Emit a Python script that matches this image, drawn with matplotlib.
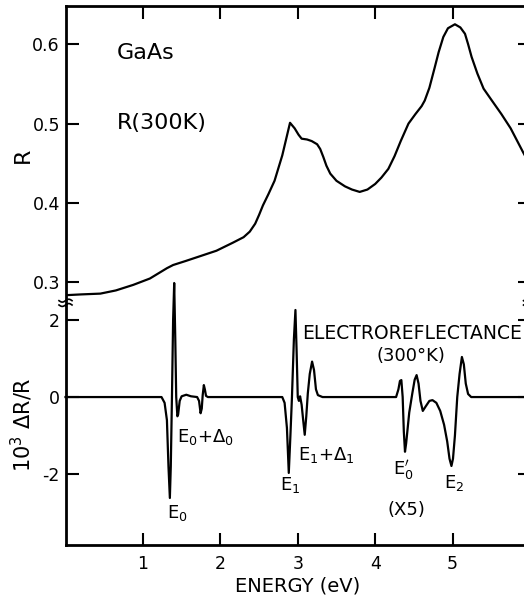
import numpy as np
import matplotlib.pyplot as plt

# reflectance R(E) of GaAs at 300K
r_energy = [0.0, 0.2, 0.45, 0.65, 0.875, 1.09, 1.31, 1.39, 1.55, 1.735, 1.95, 2.16,
            2.30, 2.38, 2.45, 2.50, 2.55, 2.62, 2.70, 2.80, 2.90, 2.96, 3.01, 3.05, 3.12,
            3.18, 3.25, 3.29, 3.33, 3.37, 3.42, 3.50, 3.61, 3.70, 3.80, 3.90, 4.00, 4.08,
            4.17, 4.25, 4.33, 4.43, 4.52, 4.60, 4.64, 4.70, 4.77, 4.82, 4.88, 4.94,
            5.03, 5.10, 5.16, 5.20, 5.245, 5.32, 5.40, 5.50, 5.63, 5.75, 5.91, 6.0]
r_value = [0.284, 0.285, 0.286, 0.290, 0.297, 0.305, 0.318, 0.322, 0.327, 0.333, 0.340, 0.350,
           0.357, 0.364, 0.374, 0.385, 0.397, 0.411, 0.428, 0.460, 0.501, 0.494, 0.486, 0.481, 0.480,
           0.478, 0.474, 0.468, 0.458, 0.447, 0.437, 0.428, 0.421, 0.417, 0.414, 0.417, 0.424, 0.432,
           0.443, 0.459, 0.478, 0.500, 0.512, 0.522, 0.529, 0.545, 0.571, 0.590, 0.609, 0.620,
           0.625, 0.621, 0.613, 0.600, 0.584, 0.563, 0.544, 0.530, 0.512, 0.494, 0.464, 0.448]

# electroreflectance 10^3 dR/R (E0' / E2 part already x5 in the original)
er_energy = [0.0, 1.24, 1.28, 1.31, 1.33, 1.348, 1.36, 1.375, 1.39, 1.404, 1.418, 1.43,
             1.445, 1.455, 1.475, 1.50, 1.56, 1.62, 1.70, 1.725, 1.745, 1.76, 1.772,
             1.787, 1.80, 1.815, 1.84,
             2.80, 2.83, 2.86, 2.884, 2.905, 2.925, 2.95, 2.97, 2.985, 3.0, 3.015, 3.03,
             3.05, 3.07, 3.09, 3.11, 3.13, 3.155, 3.185, 3.21, 3.235, 3.26, 3.32,
             4.27, 4.30, 4.32, 4.338, 4.355, 4.37, 4.385, 4.40, 4.44, 4.48, 4.51, 4.535,
             4.56, 4.585, 4.615, 4.65, 4.70, 4.74, 4.79, 4.84, 4.89, 4.93, 4.96, 4.985,
             5.005, 5.03, 5.06, 5.09, 5.12, 5.145, 5.17, 5.20, 5.24, 6.0]
er_value = [0.0, 0.0, -0.15, -0.6, -1.8, -2.62, -1.8, 0.0, 2.0, 2.96, 1.5, 0.0,
            -0.5, -0.45, -0.1, 0.02, 0.06, 0.02, 0.0, -0.1, -0.42, -0.3, 0.05,
            0.31, 0.2, 0.03, 0.0,
            0.0, -0.15, -0.8, -1.97, -1.0, 0.0, 1.5, 2.26, 1.2, 0.0, -0.1, 0.02,
            -0.2, -0.6, -0.98, -0.5, 0.1, 0.6, 0.92, 0.7, 0.2, 0.05, 0.0,
            0.0, 0.2, 0.42, 0.44, 0.0, -0.9, -1.42, -1.2, -0.4, 0.1, 0.45, 0.57,
            0.35, -0.1, -0.36, -0.25, -0.1, -0.08, -0.15, -0.36, -0.72, -1.15, -1.6, -1.79,
            -1.6, -1.0, 0.0, 0.6, 1.04, 0.85, 0.35, 0.08, 0.0, 0.0]

x_ticks = [1, 2, 3, 4, 5]
r_ticks = [0.3, 0.4, 0.5, 0.6]
er_ticks = [-2, 0, 2]

plt.rcParams['font.family'] = 'DejaVu Sans'
plt.rcParams['mathtext.fontset'] = 'dejavusans'

fig = plt.figure(figsize=(5.24, 6.0), dpi=100)
left, width = 0.125, 0.8865
ax_r = fig.add_axes([left, 0.4917, width, 0.4983])
ax_er = fig.add_axes([left, 0.0917, width, 0.4])

lw = 1.6
ax_r.plot(r_energy, r_value, color='black', lw=lw)
ax_er.plot(er_energy, er_value, color='black', lw=lw, clip_on=False)

for ax in (ax_r, ax_er):
    ax.set_xlim(0, 6)
    for s in ax.spines.values():
        s.set_linewidth(2.0)
    ax.tick_params(direction='in', length=9, width=1.5, labelsize=12.5,
                   right=True, pad=4)

ax_r.set_ylim(0.2717, 0.648)
ax_r.set_yticks(r_ticks)
ax_r.set_yticklabels(['0.3', '0.4', '0.5', '0.6'])
ax_r.set_xticks(x_ticks)
ax_r.tick_params(axis='x', top=True, bottom=False, labelbottom=False)
ax_r.spines['bottom'].set_visible(False)
ax_r.set_ylabel('R', fontsize=16)
ax_r.yaxis.set_label_coords(-0.07, 0.5)

ax_er.set_ylim(-3.84, 2.39)
ax_er.set_yticks(er_ticks)
ax_er.set_yticklabels(['-2', '0', '2'])
ax_er.set_xticks(x_ticks)
ax_er.tick_params(axis='x', top=False, bottom=True, pad=7)
ax_er.spines['top'].set_visible(False)
ax_er.set_ylabel(r'10$^3$ ΔR/R', fontsize=15)
ax_er.yaxis.set_label_coords(-0.066, 0.5)
ax_er.set_xlabel('ENERGY (eV)', fontsize=14, labelpad=3)

# break marks on the y axes
t = np.linspace(-1, 1, 25)
for xs in (0.0, 1.0):
    for dy in (0.018, 0.0):
        ax_er.plot(xs + 0.014 * t, 1.0 + dy + 0.006 * np.sin(np.pi * t),
                   transform=ax_er.transAxes, color='black', lw=1.2, clip_on=False)

# labels
ax_r.text(0.66, 0.589, 'GaAs', fontsize=16, va='center', ha='left')
ax_r.text(0.66, 0.501, 'R(300K)', fontsize=16, va='center', ha='left')

ax_er.text(1.44, -3.0, r'E$_0$', fontsize=13, ha='center', va='center')
ax_er.text(1.44, -1.04, r'E$_0$+$\Delta_0$', fontsize=13, ha='left', va='center')
ax_er.text(2.90, -2.29, r'E$_1$', fontsize=13, ha='center', va='center')
ax_er.text(3.0, -1.5, r'E$_1$+$\Delta_1$', fontsize=13, ha='left', va='center')
ax_er.text(4.36, -1.9, r"E$_0'$", fontsize=13, ha='center', va='center')
ax_er.text(5.02, -2.24, r'E$_2$', fontsize=13, ha='center', va='center')
ax_er.text(4.41, -2.94, '(X5)', fontsize=13, ha='center', va='center')
ax_er.text(3.05, 1.66, 'ELECTROREFLECTANCE', fontsize=13.5, ha='left', va='center',
           clip_on=False)
ax_er.text(4.46, 1.06, '(300°K)', fontsize=13, ha='center', va='center')

fig.savefig('out.png', dpi=100)
